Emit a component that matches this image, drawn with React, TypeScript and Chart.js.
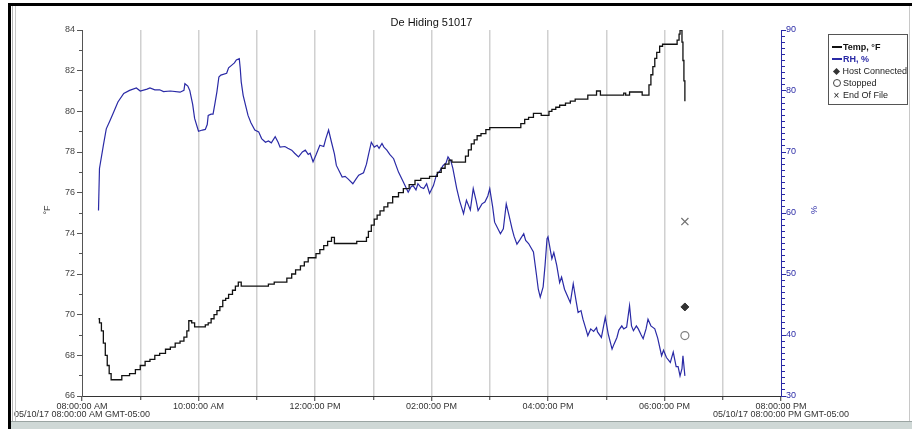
import React, { useEffect, useRef } from "react";
import { Chart, registerables } from "chart.js";

Chart.register(...registerables);

// Logger: De Hiding 51017, one day of temperature / relative humidity readings
const TITLE = "De Hiding 51017";
const START_DATE = "05/10/17";
const TZ = "GMT-05:00";

// Temperature (°F): each entry is the time a new reading level begins
const tempTimes = [
  "08:17", "08:18", "08:20", "08:22", "08:24", "08:26", "08:28", "08:30", "08:41", "08:49",
  "08:55", "09:00", "09:05", "09:10", "09:15", "09:20", "09:26", "09:31", "09:36", "09:41",
  "09:45", "09:48", "09:50", "09:53", "09:56", "10:07", "10:10", "10:13", "10:16", "10:19",
  "10:22", "10:25", "10:28", "10:31", "10:35", "10:38", "10:41", "10:44", "11:12", "11:18",
  "11:31", "11:36", "11:40", "11:45", "11:49", "11:53", "12:01", "12:05", "12:09", "12:13",
  "12:17", "12:20", "12:43", "12:53", "12:55", "12:58", "13:01", "13:04", "13:07", "13:11",
  "13:15", "13:20", "13:26", "13:31", "13:37", "13:43", "13:49", "13:58", "14:06", "14:10",
  "14:14", "14:18", "14:21", "14:35", "14:38", "14:41", "14:44", "14:47", "14:51", "14:56",
  "15:00", "15:32", "15:36", "15:40", "15:45", "15:53", "16:01", "16:04", "16:08", "16:12",
  "16:18", "16:23", "16:28", "16:41", "16:50", "16:54", "17:18", "17:20", "17:24", "17:37",
  "17:44", "17:46", "17:48", "17:50", "17:52", "17:55", "17:58", "18:13", "18:15", "18:16",
  "18:18", "18:19", "18:20", "18:21",
];
const tempValues = [
  69.8, 69.6, 69.2, 68.6, 68.0, 67.5, 67.1, 66.8, 67.0, 67.1,
  67.3, 67.5, 67.7, 67.8, 68.0, 68.1, 68.3, 68.4, 68.6, 68.7,
  68.9, 69.2, 69.7, 69.6, 69.4, 69.5, 69.6, 69.8, 70.0, 70.2,
  70.4, 70.7, 70.8, 71.0, 71.2, 71.4, 71.6, 71.4, 71.5, 71.6,
  71.8, 72.0, 72.2, 72.4, 72.6, 72.8, 73.0, 73.2, 73.4, 73.6,
  73.8, 73.5, 73.6, 73.8, 74.1, 74.4, 74.7, 74.9, 75.1, 75.3,
  75.5, 75.8, 76.0, 76.2, 76.4, 76.6, 76.7, 76.8, 77.0, 77.2,
  77.4, 77.6, 77.5, 77.8, 78.1, 78.4, 78.6, 78.8, 78.9, 79.1,
  79.2, 79.4, 79.6, 79.7, 79.9, 79.8, 80.0, 80.1, 80.2, 80.3,
  80.4, 80.5, 80.6, 80.8, 81.0, 80.8, 80.9, 80.8, 80.95, 80.8,
  81.3, 81.8, 82.2, 82.6, 82.9, 83.2, 83.3, 83.5, 83.8, 84.0,
  83.4, 82.5, 81.5, 80.5,
];

// Relative humidity (%)
const rhTimes = [
  "08:17", "08:18", "08:22", "08:25", "08:29", "08:32", "08:37", "08:43", "08:49", "08:56",
  "09:00", "09:07", "09:10", "09:15", "09:20", "09:24", "09:31", "09:41", "09:45", "09:46",
  "09:49", "09:51", "09:54", "09:56", "10:00", "10:04", "10:07", "10:09", "10:10", "10:13",
  "10:15", "10:17", "10:19", "10:21", "10:23", "10:29", "10:31", "10:34", "10:37", "10:39",
  "10:42", "10:43", "10:44", "10:46", "10:49", "10:51", "10:54", "10:58", "11:02", "11:05",
  "11:09", "11:12", "11:15", "11:19", "11:22", "11:24", "11:29", "11:32", "11:36", "11:39",
  "11:43", "11:47", "11:50", "11:53", "11:55", "11:58", "12:01", "12:05", "12:09", "12:11",
  "12:14", "12:17", "12:20", "12:22", "12:28", "12:31", "12:34", "12:39", "12:42", "12:45",
  "12:50", "12:53", "12:55", "12:58", "13:01", "13:04", "13:06", "13:09", "13:11", "13:14",
  "13:17", "13:21", "13:26", "13:31", "13:36", "13:39", "13:41", "13:44", "13:46", "13:49",
  "13:52", "13:55", "13:58", "14:02", "14:05", "14:09", "14:12", "14:15", "14:17", "14:20",
  "14:22", "14:26", "14:29", "14:33", "14:36", "14:40", "14:43", "14:46", "14:48", "14:52",
  "14:55", "14:58", "15:00", "15:03", "15:05", "15:11", "15:14", "15:17", "15:20", "15:23",
  "15:25", "15:28", "15:31", "15:35", "15:37", "15:40", "15:45", "15:48", "15:50", "15:52",
  "15:55", "15:57", "15:59", "16:00", "16:04", "16:06", "16:09", "16:12", "16:14", "16:17",
  "16:23", "16:26", "16:29", "16:31", "16:34", "16:36", "16:39", "16:41", "16:44", "16:47",
  "16:50", "16:51", "16:55", "16:59", "17:02", "17:06", "17:08", "17:11", "17:13", "17:16",
  "17:18", "17:21", "17:24", "17:26", "17:28", "17:31", "17:33", "17:36", "17:38", "17:41",
  "17:43", "17:46", "17:50", "17:53", "17:57", "17:59", "18:02", "18:06", "18:09", "18:12",
  "18:14", "18:16", "18:18", "18:19", "18:21",
];
const rhValues = [
  60.4, 67.3, 71.1, 73.8, 75.2, 76.3, 78.2, 79.6, 80.1, 80.5,
  80.0, 80.3, 80.5, 80.2, 80.2, 79.9, 80.0, 79.8, 80.1, 81.2,
  80.8, 80.1, 77.8, 75.5, 73.4, 73.6, 73.7, 74.5, 76.0, 76.2,
  76.2, 78.0, 79.9, 82.3, 82.6, 82.9, 83.8, 84.2, 84.6, 85.1,
  85.3, 83.7, 81.5, 79.3, 77.3, 76.0, 74.8, 73.6, 73.3, 72.2,
  71.6, 71.8, 71.5, 72.5, 71.6, 70.8, 70.9, 70.6, 70.3, 69.8,
  69.2, 70.0, 70.3, 69.6, 69.8, 68.4, 69.5, 71.1, 70.9, 72.1,
  73.6, 71.6, 69.7, 67.8, 65.9, 66.0, 65.6, 64.8, 65.5, 66.2,
  66.6, 68.0, 69.5, 71.6, 70.8, 71.1, 70.6, 71.4, 70.8, 70.3,
  69.6, 68.9, 66.7, 65.1, 63.4, 64.3, 64.5, 63.8, 64.8, 64.2,
  64.0, 64.8, 63.2, 64.5, 66.2, 67.0, 67.8, 68.2, 69.2, 68.5,
  67.3, 64.0, 62.0, 59.9, 62.1, 60.5, 64.0, 62.0, 60.4, 61.5,
  61.8, 62.8, 64.0, 61.0, 58.5, 56.6, 57.4, 61.5, 59.5, 57.4,
  56.2, 54.9, 55.6, 56.6, 55.5, 55.0, 53.6, 50.0, 47.5, 46.2,
  47.9, 51.5, 55.8, 56.1, 52.5, 53.5, 51.4, 48.6, 49.5, 47.5,
  45.3, 48.4, 45.5, 43.7, 44.0, 42.6, 41.0, 39.9, 41.0, 40.6,
  41.2, 40.5, 39.6, 42.9, 40.2, 37.7, 38.5, 39.6, 40.8, 41.5,
  41.0, 41.3, 44.8, 41.5, 40.7, 41.5, 41.0, 40.0, 39.4, 41.0,
  42.6, 41.5, 41.0, 39.5, 36.6, 37.5, 36.3, 35.5, 37.2, 34.8,
  34.8, 33.3, 34.5, 36.6, 33.3,
];

// Logger events, plotted against the RH scale
const eventNames = ["Host Connected", "Stopped", "End Of File"];
const eventTimes = ["18:21", "18:21", "18:21"];
const eventValues = [44.6, 39.9, 58.6];

// Axis ranges
const tempRange = [66, 84];
const rhRange = [30, 90];
const dayStartHour = 8;
const dayHours = 12;

const FONT = "'Liberation Sans', Arial, sans-serif";
const BLUE = "#2a2aa6";
const TEMP_COLOR = "#111111";

const toMinutes = (t: string) => {
  const [h, m] = t.split(":").map(Number);
  return (h - dayStartHour) * 60 + m;
};

const clockLabel = (minutes: number) => {
  const h24 = dayStartHour + Math.round(minutes / 60);
  const suffix = h24 >= 12 ? "PM" : "AM";
  let h12 = h24 % 12;
  if (h12 === 0) h12 = 12;
  return `${String(h12).padStart(2, "0")}:00:00 ${suffix}`;
};

// Minor tick marks drawn shorter: the dash pattern keeps only the part next to the axis
const minorDashOuter = [0, 2, 3, 10];
const minorDashInner = [3, 10];

export default function App() {
  const canvasRef = useRef<HTMLCanvasElement | null>(null);

  useEffect(() => {
    const canvas = canvasRef.current;
    if (!canvas) return;

    const tempData = tempTimes.map((t, i) => ({ x: toMinutes(t), y: tempValues[i] }));
    const rhData = rhTimes.map((t, i) => ({ x: toMinutes(t), y: rhValues[i] }));
    const ev = (i: number) => [{ x: toMinutes(eventTimes[i]), y: eventValues[i] }];

    const chart = new Chart(canvas, {
      type: "line",
      data: {
        datasets: [
          {
            label: "Temp, °F",
            data: tempData,
            yAxisID: "y",
            borderColor: TEMP_COLOR,
            borderWidth: 1.3,
            stepped: "before",
            pointRadius: 0,
            fill: false,
          },
          {
            label: "RH, %",
            data: rhData,
            yAxisID: "y2",
            borderColor: BLUE,
            borderWidth: 1.2,
            tension: 0,
            pointRadius: 0,
            fill: false,
          },
          {
            type: "scatter",
            label: eventNames[0],
            data: ev(0),
            yAxisID: "y2",
            pointStyle: "rectRot",
            pointRadius: 4,
            backgroundColor: "#333333",
            borderColor: "#333333",
            borderWidth: 1,
          },
          {
            type: "scatter",
            label: eventNames[1],
            data: ev(1),
            yAxisID: "y2",
            pointStyle: "circle",
            pointRadius: 4,
            backgroundColor: "#ffffff",
            borderColor: "#808080",
            borderWidth: 1.2,
          },
          {
            type: "scatter",
            label: eventNames[2],
            data: ev(2),
            yAxisID: "y2",
            pointStyle: "crossRot",
            pointRadius: 5,
            borderColor: "#707070",
            borderWidth: 1.2,
          },
        ] as any,
      },
      options: {
        animation: false,
        responsive: false,
        maintainAspectRatio: false,
        layout: { padding: { top: 30, left: 0, right: 0, bottom: 0 } },
        plugins: {
          legend: { display: false },
          title: { display: false },
          tooltip: { enabled: false },
        },
        scales: {
          x: {
            type: "linear",
            min: 0,
            max: dayHours * 60,
            afterFit: (s: any) => {
              s.height = 33;
            },
            ticks: {
              stepSize: 60,
              autoSkip: false,
              maxRotation: 0,
              minRotation: 0,
              padding: 1,
              color: "#333333",
              font: { family: FONT, size: 9, lineHeight: 0.95 },
              callback: (v: any) => {
                const m = Number(v);
                if (Math.round(m / 60) % 2 !== 0) return "";
                const lbl = clockLabel(m);
                if (m === 0 || m === dayHours * 60) {
                  return [lbl, `${START_DATE} ${lbl} ${TZ}`];
                }
                return lbl;
              },
            },
            grid: {
              drawOnChartArea: true,
              drawTicks: true,
              tickLength: 5,
              lineWidth: 1.5,
              color: (ctx: any) => {
                const v = ctx.tick ? ctx.tick.value : -1;
                return v === 0 || v === dayHours * 60 ? "rgba(0,0,0,0)" : "#d0d0d0";
              },
              tickColor: "#333333",
              tickWidth: 1,
              tickBorderDash: (ctx: any) => {
                const v = ctx.tick ? ctx.tick.value : 0;
                return Math.round(v / 60) % 2 !== 0 ? minorDashInner : [];
              },
            } as any,
            border: { display: true, color: "#333333", width: 1 },
          },
          y: {
            type: "linear",
            position: "left",
            min: tempRange[0],
            max: tempRange[1],
            afterFit: (s: any) => {
              s.width = 82;
            },
            ticks: {
              stepSize: 1,
              autoSkip: false,
              padding: 2,
              color: "#444444",
              font: { family: FONT, size: 9 },
              callback: (v: any) => (Number(v) % 2 === 0 ? String(v) : ""),
            },
            grid: {
              drawOnChartArea: false,
              drawTicks: true,
              tickLength: 5,
              tickColor: "#555555",
              tickBorderDash: (ctx: any) => {
                const v = ctx.tick ? ctx.tick.value : 0;
                return Number(v) % 2 !== 0 ? minorDashOuter : [];
              },
            } as any,
            border: { display: true, color: "#555555", width: 1 },
          },
          y2: {
            type: "linear",
            position: "right",
            min: rhRange[0],
            max: rhRange[1],
            afterFit: (s: any) => {
              s.width = 131;
            },
            ticks: {
              stepSize: 1,
              autoSkip: false,
              padding: 0,
              color: BLUE,
              font: { family: FONT, size: 9 },
              callback: (v: any) => (Number(v) % 10 === 0 ? String(v) : ""),
            },
            grid: {
              drawOnChartArea: false,
              drawTicks: true,
              tickLength: 5,
              tickColor: BLUE,
              tickBorderDash: (ctx: any) => {
                const v = ctx.tick ? ctx.tick.value : 0;
                return Number(v) % 10 !== 0 ? minorDashInner : [];
              },
            } as any,
            border: { display: true, color: BLUE, width: 1 },
          },
        },
      } as any,
    });

    return () => {
      chart.destroy();
    };
  }, []);

  const legendRow: React.CSSProperties = {
    display: "flex",
    alignItems: "center",
    height: 12,
    whiteSpace: "nowrap",
  };
  const symbolBox: React.CSSProperties = {
    width: 12,
    display: "inline-flex",
    justifyContent: "center",
    alignItems: "center",
    marginRight: 2,
  };

  return (
    <div
      style={{
        position: "fixed",
        left: 0,
        top: 0,
        width: 912,
        height: 429,
        background: "#ffffff",
        overflow: "hidden",
        fontFamily: FONT,
      }}
    >
      <canvas
        ref={canvasRef}
        width={912}
        height={429}
        style={{ position: "absolute", left: 0, top: 0, display: "block" }}
      />

      {/* window frame */}
      <div style={{ position: "absolute", left: 8, top: 3, right: 0, height: 3, background: "#000" }} />
      <div style={{ position: "absolute", left: 8, top: 3, width: 3, bottom: 0, background: "#000" }} />
      <div style={{ position: "absolute", left: 12, top: 6, width: 1, bottom: 8, background: "#b4b4b4" }} />
      <div style={{ position: "absolute", left: 15, top: 6, width: 1, bottom: 8, background: "#c8c8c8" }} />
      <div style={{ position: "absolute", right: 2, top: 6, width: 1, bottom: 8, background: "#c8c8c8" }} />
      <div
        style={{
          position: "absolute",
          left: 11,
          right: 0,
          top: 421,
          bottom: 0,
          background: "#cfd8d6",
          borderTop: "1px solid #9aa4a2",
        }}
      />

      {/* title */}
      <div
        style={{
          position: "absolute",
          left: 82,
          width: 699,
          top: 16,
          textAlign: "center",
          fontSize: 11,
          color: "#111",
        }}
      >
        {TITLE}
      </div>

      {/* axis titles */}
      <div
        style={{
          position: "absolute",
          left: 37,
          top: 205,
          width: 20,
          textAlign: "center",
          fontSize: 9,
          color: "#333",
          transform: "rotate(-90deg)",
        }}
      >
        °F
      </div>
      <div
        style={{
          position: "absolute",
          left: 804,
          top: 205,
          width: 20,
          textAlign: "center",
          fontSize: 9,
          color: BLUE,
          transform: "rotate(-90deg)",
        }}
      >
        %
      </div>

      {/* legend */}
      <div
        style={{
          position: "absolute",
          left: 828,
          top: 34,
          width: 80,
          height: 71,
          boxSizing: "border-box",
          border: "1px solid #555",
          padding: "6px 0 0 3px",
          fontSize: 9,
          color: "#222",
        }}
      >
        <div style={{ ...legendRow, fontWeight: "bold", color: TEMP_COLOR }}>
          <span style={{ ...symbolBox, width: 10, marginRight: 1 }}>
            <span style={{ display: "block", width: 10, height: 2, background: TEMP_COLOR }} />
          </span>
          Temp, °F
        </div>
        <div style={{ ...legendRow, fontWeight: "bold", color: BLUE }}>
          <span style={{ ...symbolBox, width: 10, marginRight: 1 }}>
            <span style={{ display: "block", width: 10, height: 2, background: BLUE }} />
          </span>
          RH, %
        </div>
        <div style={legendRow}>
          <span style={{ ...symbolBox, width: 9 }}>
            <span
              style={{
                display: "block",
                width: 5,
                height: 5,
                background: "#333",
                transform: "rotate(45deg)",
              }}
            />
          </span>
          {eventNames[0]}
        </div>
        <div style={legendRow}>
          <span style={{ ...symbolBox, width: 9 }}>
            <span
              style={{
                display: "block",
                width: 6,
                height: 6,
                borderRadius: "50%",
                border: "1px solid #444",
              }}
            />
          </span>
          {eventNames[1]}
        </div>
        <div style={legendRow}>
          <span style={{ ...symbolBox, width: 9, fontSize: 10 }}>×</span>
          {eventNames[2]}
        </div>
      </div>
    </div>
  );
}
